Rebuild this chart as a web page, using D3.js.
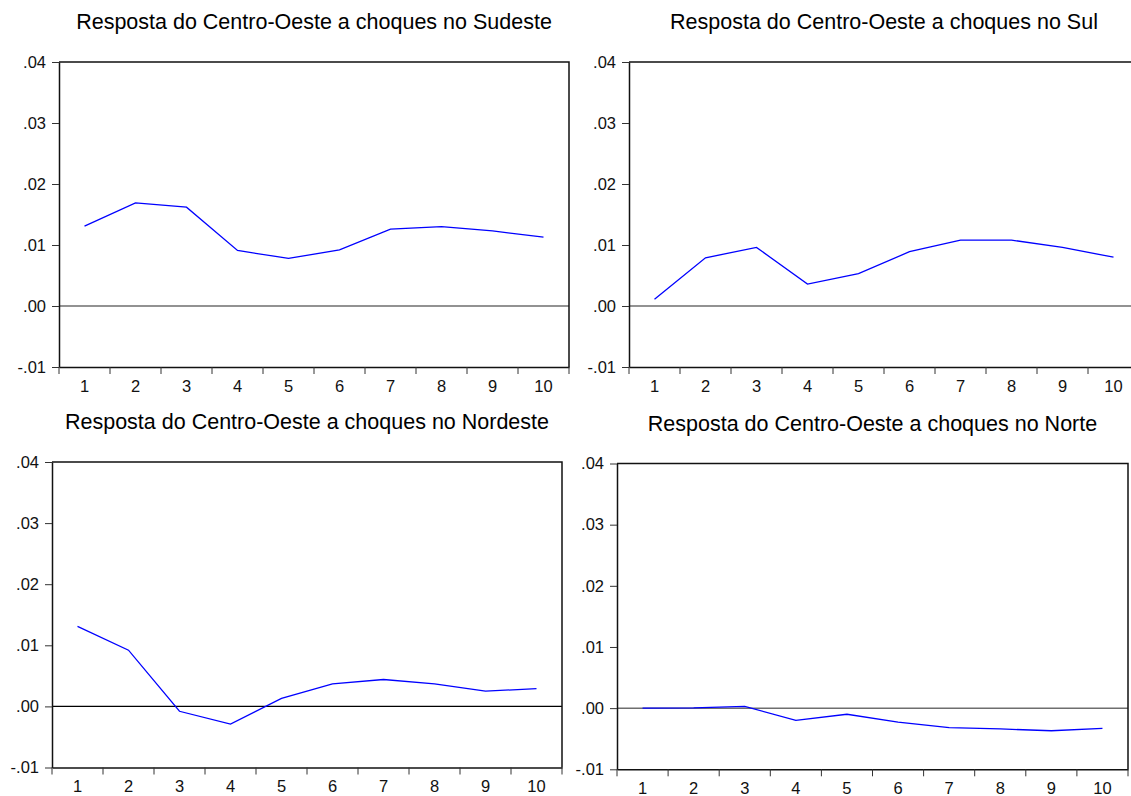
<!DOCTYPE html>
<html>
<head>
<meta charset="utf-8">
<script src="https://cdn.jsdelivr.net/npm/d3@7"></script>
<style>
  html, body { margin: 0; padding: 0; background: #fff; }
  svg { display: block; font-family: "Liberation Sans", Arial, sans-serif; }
</style>
</head>
<body>
<svg id="chart" width="1131" height="796"></svg>
<script>
// Impulse-response horizons (periods 1..10)
const periods = ["1", "2", "3", "4", "5", "6", "7", "8", "9", "10"];

// Y-axis tick values and their labels
const yTicks = [-0.01, 0.00, 0.01, 0.02, 0.03, 0.04];
const yTickLabels = ["-.01", ".00", ".01", ".02", ".03", ".04"];

// Panel titles
const titles = [
  "Resposta do Centro-Oeste a choques no Sudeste",
  "Resposta do Centro-Oeste a choques no Sul",
  "Resposta do Centro-Oeste a choques no Nordeste",
  "Resposta do Centro-Oeste a choques no Norte"
];

// Response of Centro-Oeste to a shock in each region
const respSudeste  = [0.0131, 0.0169, 0.0162, 0.0091, 0.0078, 0.0092, 0.0126, 0.0130, 0.0123, 0.0113];
const respSul      = [0.0011, 0.0079, 0.0096, 0.0036, 0.0053, 0.0089, 0.0108, 0.0108, 0.0096, 0.0080];
const respNordeste = [0.0131, 0.0092, -0.0008, -0.0029, 0.0013, 0.0037, 0.0044, 0.0037, 0.0025, 0.0029];
const respNorte    = [0.0000, 0.00005, 0.0003, -0.0020, -0.0010, -0.0023, -0.0032, -0.0034, -0.0037, -0.0033];

const seriesList = [respSudeste, respSul, respNordeste, respNorte];

// Plot-area boxes for the 2x2 grid
const panels = [
  { left: 59,  top: 62,    width: 510, height: 305,   titleY: 29,  zeroColor: "#6e6e6e", zeroWidth: 1.5 },
  { left: 629, top: 62,    width: 510, height: 305,   titleY: 29,  zeroColor: "#6e6e6e", zeroWidth: 1.5 },
  { left: 52,  top: 462,   width: 510, height: 305.5, titleY: 429, zeroColor: "#000",    zeroWidth: 1.1 },
  { left: 617, top: 463.5, width: 511, height: 305.8, titleY: 431, zeroColor: "#6e6e6e", zeroWidth: 1.5 }
];

const svg = d3.select("#chart");

panels.forEach((p, i) => {
  const data = seriesList[i];
  const g = svg.append("g");

  const x = d3.scaleBand().domain(periods).range([p.left, p.left + p.width]).padding(0);
  const y = d3.scaleLinear().domain([-0.01, 0.04]).range([p.top + p.height, p.top]);

  // Title centred over the plot
  g.append("text")
    .attr("x", p.left + p.width / 2)
    .attr("y", p.titleY)
    .attr("text-anchor", "middle")
    .attr("font-size", 21.5)
    .attr("fill", "#000")
    .text(titles[i]);

  // Zero reference line
  g.append("line")
    .attr("x1", p.left).attr("x2", p.left + p.width)
    .attr("y1", y(0)).attr("y2", y(0))
    .attr("stroke", p.zeroColor)
    .attr("stroke-width", p.zeroWidth);

  // Response line
  const line = d3.line()
    .x((d, j) => x(periods[j]) + x.bandwidth() / 2)
    .y(d => y(d));
  g.append("path")
    .datum(data)
    .attr("d", line)
    .attr("fill", "none")
    .attr("stroke", "#0000ff")
    .attr("stroke-width", 1.3);

  // Frame (top, right)
  g.append("path")
    .attr("d", `M${p.left},${p.top}H${p.left + p.width}V${p.top + p.height}`)
    .attr("fill", "none")
    .attr("stroke", "#111")
    .attr("stroke-width", 1.5);

  // Left axis
  const yAxis = d3.axisLeft(y)
    .tickValues(yTicks)
    .tickFormat((d, k) => yTickLabels[k])
    .tickSize(7)
    .tickPadding(6)
    .tickSizeOuter(0);
  const ya = g.append("g")
    .attr("transform", `translate(${p.left},0)`)
    .call(yAxis);
  ya.select(".domain").attr("stroke", "#111").attr("stroke-width", 1.5);
  ya.selectAll(".tick line").attr("stroke", "#333").attr("stroke-width", 1);
  ya.selectAll(".tick text").attr("font-size", 16.5).attr("fill", "#111")
    .attr("font-family", "'Liberation Sans', Arial, sans-serif");

  // Bottom axis: labels at period centres, ticks at period boundaries
  const xAxis = d3.axisBottom(x).tickSize(0).tickPadding(13).tickSizeOuter(0);
  const xa = g.append("g")
    .attr("transform", `translate(0,${p.top + p.height})`)
    .call(xAxis);
  xa.select(".domain").attr("stroke", "#111").attr("stroke-width", 1.5);
  xa.selectAll(".tick text").attr("font-size", 16.5).attr("fill", "#111")
    .attr("font-family", "'Liberation Sans', Arial, sans-serif");

  const edges = periods.map(c => x(c)).concat([x.range()[1]]);
  xa.selectAll("line.edge")
    .data(edges)
    .join("line")
    .attr("class", "edge")
    .attr("x1", d => d).attr("x2", d => d)
    .attr("y1", 0).attr("y2", 7)
    .attr("stroke", "#333")
    .attr("stroke-width", 1);
});
</script>
</body>
</html>
